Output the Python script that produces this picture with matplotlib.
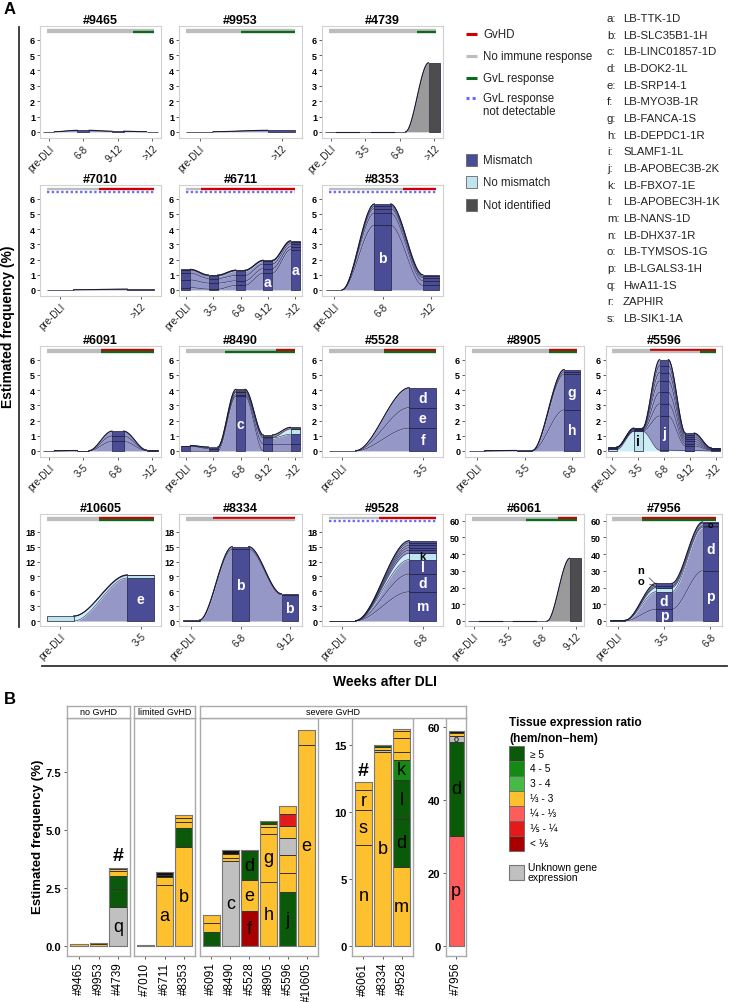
import numpy as np
import matplotlib
matplotlib.use('Agg')
import matplotlib.pyplot as plt
from matplotlib.patches import Rectangle

plt.rcParams['font.family'] = ['Liberation Sans', 'DejaVu Sans']

# ---- panel A data: time points, clones (category, values per time point, letter, label positions), status
# status = (start of GvHD, start of GvL response, GvL not detectable) as fraction of the follow-up line
P9465_t = ['pre-DLI', '6-8', '9-12', '>12']
P9465_c = [('mm', [0.01, 0.1, 0.04, 0.01], '', [])]
P9465_s = (None, 0.8, False)

P9953_t = ['pre-DLI', '>12']
P9953_c = [('mm', [0.01, 0.1], '', [])]
P9953_s = (None, 0.5, False)

P4739_t = ['pre_DLI', '3-5', '6-8', '>12']
P4739_c = [('ni', [0.01, 0.01, 0.01, 4.5], '', [])]
P4739_s = (None, 0.82, False)

P7010_t = ['pre-DLI', '>12']
P7010_c = [('ni', [0.01, 0.05], '', [])]
P7010_s = (0.49, None, True)

P6711_t = ['pre-DLI', '3-5', '6-8', '9-12', '>12']
P6711_c = [('mm', [0.15, 0.05, 0.3, 1.1, 2.65], 'a', [3, 4]),
           ('mm', [0.5, 0.4, 0.3, 0.3, 0.2], '', []),
           ('mm', [0.45, 0.3, 0.35, 0.3, 0.2], '', []),
           ('mm', [0.2, 0.15, 0.3, 0.2, 0.1], '', []),
           ('nm', [0.03, 0.05, 0.03, 0.03, 0.03], '', []),
           ('ni', [0.02, 0.03, 0.02, 0.02, 0.05], '', [])]
P6711_s = (0.14, None, True)

P8353_t = ['pre-DLI', '6-8', '>12']
P8353_c = [('mm', [0.01, 4.25, 0.3], 'b', [1]),
           ('mm', [0.0, 0.8, 0.3], '', []),
           ('mm', [0.0, 0.3, 0.2], '', []),
           ('mm', [0.0, 0.15, 0.1], '', []),
           ('mm', [0.0, 0.15, 0.1], '', [])]
P8353_s = (0.69, None, True)

P6091_t = ['pre-DLI', '3-5', '6-8', '>12']
P6091_c = [('mm', [0.0, 0.01, 0.62, 0.02], '', []),
           ('mm', [0.0, 0.01, 0.36, 0.02], '', []),
           ('mm', [0.01, 0.0, 0.32, 0.02], '', [])]
P6091_s = (0.5, 0.5, False)

P8490_t = ['pre-DLI', '3-5', '6-8', '9-12', '>12']
P8490_c = [('mm', [0.0, 0.0, 3.6, 0.0, 0.0], 'c', [2]),
           ('mm', [0.3, 0.15, 0.1, 0.45, 0.45], '', []),
           ('mm', [0.03, 0.03, 0.15, 0.4, 0.65], '', []),
           ('nm', [0.02, 0.07, 0.05, 0.05, 0.35], '', []),
           ('ni', [0.0, 0.0, 0.15, 0.15, 0.1], '', [])]
P8490_s = (0.82, 0.36, False)

P5528_t = ['pre-DLI', '3-5']
P5528_c = [('mm', [0.0, 1.5], 'f', [1]),
           ('mm', [0.0, 1.35], 'e', [1]),
           ('mm', [0.02, 1.3], 'd', [1])]
P5528_s = (0.51, 0.51, False)

P8905_t = ['pre-DLI', '3-5', '6-8']
P8905_c = [('mm', [0.0, 0.01, 2.7], 'h', [2]),
           ('mm', [0.01, 0.02, 2.35], 'g', [2]),
           ('mm', [0.0, 0.0, 0.15], '', []),
           ('mm', [0.0, 0.0, 0.15], '', [])]
P8905_s = (0.73, 0.73, False)

P5596_t = ['pre-DLI', '3-5', '6-8', '9-12', '>12']
P5596_c = [('nm', [0.1, 1.3, 0.05, 0.02, 0.0], 'i', [1]),
           ('mm', [0.1, 0.0, 2.25, 0.3, 0.05], 'j', [2]),
           ('mm', [0.02, 0.05, 0.8, 0.15, 0.03], '', []),
           ('mm', [0.02, 0.05, 0.75, 0.15, 0.03], '', []),
           ('mm', [0.01, 0.05, 0.75, 0.15, 0.03], '', []),
           ('mm', [0.0, 0.02, 0.55, 0.15, 0.03], '', []),
           ('mm', [0.0, 0.02, 0.45, 0.15, 0.02], '', []),
           ('mm', [0.0, 0.01, 0.4, 0.1, 0.01], '', [])]
P5596_s = (0.36, 0.85, False)

P10605_t = ['pre-DLI', '3-5']
P10605_c = [('mm', [0.0, 8.7], 'e', [1]),
            ('nm', [1.0, 0.5], '', []),
            ('mm', [0.0, 0.1], '', [])]
P10605_s = (0.49, 0.49, False)

P8334_t = ['pre-DLI', '6-8', '9-12']
P8334_c = [('mm', [0.1, 14.5, 5.3], 'b', [1, 2]),
           ('mm', [0.1, 0.5, 0.2], '', [])]
P8334_s = (0.25, None, False)

P9528_t = ['pre-DLI', '6-8']
P9528_c = [('mm', [0.05, 5.9], 'm', [1]),
           ('mm', [0.0, 3.6], 'd', [1]),
           ('mm', [0.0, 2.9], 'l', [1]),
           ('nm', [0.0, 1.3], 'k', [1]),
           ('mm', [0.0, 0.6], '', []),
           ('mm', [0.0, 0.5], '', []),
           ('mm', [0.05, 0.5], '', []),
           ('mm', [0.0, 0.5], '', []),
           ('mm', [0.0, 0.4], '', [])]
P9528_s = (0.47, None, True)

P6061_t = ['pre-DLI', '3-5', '6-8', '9-12']
P6061_c = [('ni', [0.01, 0.01, 0.01, 37.5], '', [])]
P6061_s = (0.82, 0.51, False)

P7956_t = ['pre-DLI', '3-5', '6-8']
P7956_c = [('mm', [0.1, 7.0, 30.0], 'p', [1, 2]),
           ('mm', [0.1, 10.5, 26.0], 'd', [1, 2]),
           ('nm', [0.2, 2.5, 0.8], '', []),
           ('mm', [0.05, 1.0, 1.7], 'o', [2]),
           ('mm', [0.05, 1.5, 0.7], 'n', [])]
P7956_s = (0.29, 0.29, False)
# letter, clone index, time index, text position
P7956_callouts = [('n', 4, 1, 0.5, 30.5), ('o', 3, 1, 0.5, 24.0)]

genes = ['LB-TTK-1D', 'LB-SLC35B1-1H', 'LB-LINC01857-1D', 'LB-DOK2-1L', 'LB-SRP14-1',
         'LB-MYO3B-1R', 'LB-FANCA-1S', 'LB-DEPDC1-1R', 'SLAMF1-1L', 'LB-APOBEC3B-2K',
         'LB-FBXO7-1E', 'LB-APOBEC3H-1K', 'LB-NANS-1D', 'LB-DHX37-1R', 'LB-TYMSOS-1G',
         'LB-LGALS3-1H', 'HwA11-1S', 'ZAPHIR', 'LB-SIK1-1A']

# ---- panel B data: per bar, segments bottom->top (expression class, height, letter)
B_noG_ids = ['#9465', '#9953', '#4739']
B_noG = [[('y', 0.1)],
         [('y', 0.09), ('g5', 0.02)],
         [('u', 1.7, 'q'), ('g5', 0.75), ('g5', 0.55), ('y', 0.25), ('y', 0.07), ('y', 0.06)]]
B_lim_ids = ['#7010', '#6711', '#8353']
B_lim = [[('y', 0.03)],
         [('y', 2.65, 'a'), ('y', 0.32), ('k', 0.1), ('k', 0.13)],
         [('y', 4.25, 'b'), ('g5', 0.85), ('y', 0.25), ('y', 0.15), ('y', 0.15)]]
B_sev_ids = ['#6091', '#8490', '#5528', '#8905', '#5596', '#10605']
B_sev = [[('g5', 0.62), ('y', 0.36), ('y', 0.34)],
         [('u', 3.65, 'c'), ('y', 0.15), ('y', 0.15), ('k', 0.17)],
         [('r5', 1.5, 'f'), ('y', 1.35, 'e'), ('g5', 1.25, 'd'), ('k', 0.04)],
         [('y', 2.75, 'h'), ('y', 2.1, 'g'), ('y', 0.3), ('y', 0.1), ('g5', 0.13)],
         [('g5', 2.32, 'j'), ('y', 0.83), ('y', 0.78), ('u', 0.72), ('y', 0.53), ('r4', 0.52), ('y', 0.32)],
         [('y', 8.65, 'e'), ('y', 0.65)]]
B_sev2_ids = ['#6061', '#8334', '#9528']
B_sev2 = [[('y', 7.5, 'n'), ('y', 2.65, 's'), ('y', 1.45, 'r'), ('y', 0.6)],
          [('y', 14.5, 'b'), ('u', 0.15), ('y', 0.15), ('g5', 0.2)],
          [('y', 5.9, 'm'), ('g5', 3.6, 'd'), ('g5', 2.9, 'l'), ('g4', 1.45, 'k'),
           ('y', 0.65), ('y', 1.0), ('y', 0.5), ('y', 0.2)]]
B_p60_ids = ['#7956']
B_p60 = [[('r3', 30.3, 'p'), ('g5', 25.7, 'd'), ('u', 1.7, 'o'), ('y', 0.8), ('k', 0.5)]]
B_hash = ['#4739', '#6061']

B_keys = ['g5', 'g4', 'g3', 'y', 'r3', 'r4', 'r5']
B_labels = ['≥ 5', '4 - 5', '3 - 4', '⅓ - 3', '¼ - ⅓', '⅕ - ¼', '< ⅕']

# ---- colours
BAR = {'mm': '#4a4d96', 'nm': '#bfe5ee', 'ni': '#4d4d4d'}
FLOW = {'mm': '#9597c6', 'nm': '#cdeef4', 'ni': '#9a9a9a'}
EDGE = '#2b2b55'
RED, GRAY, GREEN, BLUE = '#cc0000', '#bdbdbd', '#0a6b1e', '#6b6bff'
EXPR = {'g5': '#0a5a0a', 'g4': '#148a14', 'g3': '#46b946', 'y': '#fdc02e',
        'r3': '#ff5c5c', 'r4': '#e31a1c', 'r5': '#a80000', 'u': '#c0c0c0', 'k': '#111111'}

W, H = 729, 1003
fig = plt.figure(figsize=(W / 100, H / 100), dpi=100)


def add_ax(x0, x1, y0, y1):
    return fig.add_axes([x0 / W, 1 - y1 / H, (x1 - x0) / W, (y1 - y0) / H])


def status_lines(ax, st):
    gvhd, gvl, nd = st
    a0, a1 = 0.055, 0.945

    def seg(a, b, y, col, ls='-'):
        ax.plot([a0 + (a1 - a0) * a, a0 + (a1 - a0) * b], [y, y], transform=ax.transAxes,
                color=col, lw=1.7, ls=ls, solid_capstyle='butt', clip_on=False, zorder=5)
    if gvhd is None:
        seg(0, 1, 0.968, GRAY)
    else:
        seg(0, gvhd, 0.968, GRAY)
        seg(gvhd, 1, 0.968, RED)
    if nd:
        seg(0, 1, 0.94, BLUE, ls=(0, (1, 1)))
    elif gvl is None:
        seg(0, 1, 0.948, GRAY)
    else:
        seg(0, gvl, 0.948, GRAY)
        seg(gvl, 1, 0.948, GREEN)


def alluvial(ax, name, times, clones, st, ylim, yticks, callouts=()):
    n = len(times)
    w = 1 / 3
    vals = np.array([c[1] for c in clones], dtype=float)
    tops = np.cumsum(vals, axis=0)
    bots = tops - vals
    s = np.linspace(0, 1, 60)
    sm = s * s * (3 - 2 * s)
    for i in range(n - 1):
        xs = (i + w / 2) + (1 - w) * s
        for k, c in enumerate(clones):
            lo = bots[k, i] + (bots[k, i + 1] - bots[k, i]) * sm
            hi = tops[k, i] + (tops[k, i + 1] - tops[k, i]) * sm
            ax.fill_between(xs, lo, hi, color=FLOW[c[0]], lw=0, zorder=1)
            ax.plot(xs, hi, color=EDGE, lw=0.4, zorder=2)
        ax.plot(xs, tops[-1, i] + (tops[-1, i + 1] - tops[-1, i]) * sm, color='#1a1a33', lw=0.8, zorder=2)
    rng = ylim[1] - ylim[0]
    for i in range(n):
        for k, c in enumerate(clones):
            if vals[k, i] > 0:
                ax.bar(i, vals[k, i], bottom=bots[k, i], width=w, color=BAR[c[0]],
                       edgecolor='#1c1c3c', lw=0.5, zorder=3)
    for k, c in enumerate(clones):
        for i in c[3]:
            y = bots[k, i] + vals[k, i] / 2
            frac = vals[k, i] / rng
            if frac < 0.04:
                fs, col = 6.5, 'black'
            elif frac < 0.08:
                fs, col = 8, 'black' if c[0] == 'nm' else 'white'
            else:
                fs, col = 10, 'black' if c[0] == 'nm' else 'white'
            ax.text(i, y, c[2], ha='center', va='center', fontsize=fs, fontweight='bold',
                    color=col, zorder=6)
    for letter, k, i, tx, ty in callouts:
        y = bots[k, i] + vals[k, i] / 2
        ax.annotate(letter, xy=(i - w / 2, y), xytext=(tx, ty), fontsize=8, fontweight='bold',
                    ha='center', va='center', zorder=6,
                    arrowprops=dict(arrowstyle='-', color='#333333', lw=0.5, shrinkA=2, shrinkB=0))
    status_lines(ax, st)
    ax.set_xlim(-0.25, n - 0.75)
    ax.set_ylim(*ylim)
    ax.set_yticks(yticks)
    ax.set_yticklabels([str(v) for v in yticks], fontsize=6.5, fontweight='bold')
    ax.set_xticks(range(n))
    ax.set_xticklabels(times, rotation=45, ha='right', rotation_mode='anchor', fontsize=7, color='#222222')
    ax.tick_params(length=2, width=0.6, color='#444444', pad=1.5)
    for sp in ax.spines.values():
        sp.set_color('#d0d0d0')
        sp.set_linewidth(0.8)
    ax.set_title(name, fontsize=9, fontweight='bold', pad=1.5)


# ---- panel A layout
cols = [(40, 161), (179, 302), (322, 443), (465, 584), (606, 722)]
rows = [(27, 139), (186, 297), (347, 458), (515, 627)]
A_layout = [[('#9465', P9465_t, P9465_c, P9465_s), ('#9953', P9953_t, P9953_c, P9953_s),
             ('#4739', P4739_t, P4739_c, P4739_s)],
            [('#7010', P7010_t, P7010_c, P7010_s), ('#6711', P6711_t, P6711_c, P6711_s),
             ('#8353', P8353_t, P8353_c, P8353_s)],
            [('#6091', P6091_t, P6091_c, P6091_s), ('#8490', P8490_t, P8490_c, P8490_s),
             ('#5528', P5528_t, P5528_c, P5528_s), ('#8905', P8905_t, P8905_c, P8905_s),
             ('#5596', P5596_t, P5596_c, P5596_s)],
            [('#10605', P10605_t, P10605_c, P10605_s), ('#8334', P8334_t, P8334_c, P8334_s),
             ('#9528', P9528_t, P9528_c, P9528_s), ('#6061', P6061_t, P6061_c, P6061_s),
             ('#7956', P7956_t, P7956_c, P7956_s)]]

for r, row in enumerate(A_layout):
    for j, (name, t, c, st) in enumerate(row):
        ax = add_ax(cols[j][0], cols[j][1], rows[r][0], rows[r][1])
        if r < 3:
            ylim, yt = (-0.4, 6.9), list(range(7))
        elif name in ('#6061', '#7956'):
            ylim, yt = (-3.0, 64.0), list(range(0, 61, 10))
        else:
            ylim, yt = (-1.0, 21.6), list(range(0, 19, 3))
        alluvial(ax, name, t, c, st, ylim, yt, P7956_callouts if name == '#7956' else ())

# ---- panel B
B_top, B_bot = 719, 957


def stack_panel(x0, x1, ids, bars, ylim, yticks, ytl):
    ax = add_ax(x0, x1, B_top, B_bot)
    rng = ylim[1] - ylim[0]
    for i, segs in enumerate(bars):
        b = 0.0
        for seg in segs:
            key, h = seg[0], seg[1]
            ax.bar(i, h, bottom=b, width=0.9, color=EXPR[key], edgecolor='#333333', lw=0.7, zorder=2)
            if len(seg) > 2:
                small = h < 0.06 * rng
                ax.text(i, b + h / 2, seg[2], ha='center', va='center',
                        fontsize=6.5 if small else 13, zorder=4)
            b += h
        ax.bar(i, b, width=0.9, fill=False, edgecolor='#777777', lw=0.8, zorder=3)
        if ids[i] in B_hash:
            ax.text(i, b + 0.015 * rng, '#', ha='center', va='bottom', fontsize=14, fontweight='bold')
    ax.set_xlim(-0.6, len(bars) - 0.4)
    ax.set_ylim(*ylim)
    ax.set_xticks(range(len(bars)))
    ax.set_xticklabels(ids, rotation=90, fontsize=8.5)
    ax.set_yticks(yticks)
    if ytl:
        ax.set_yticklabels(ytl, fontsize=8, fontweight='bold')
    else:
        ax.tick_params(axis='y', left=False, labelleft=False)
    ax.tick_params(length=2.5, width=0.6, color='#444444', pad=1.5)
    for sp in ax.spines.values():
        sp.set_color('#aaaaaa')
        sp.set_linewidth(1.0)
    return ax


small_t = [0, 2.5, 5.0, 7.5]
stack_panel(67, 130, B_noG_ids, B_noG, (-0.43, 9.83), small_t, ['0.0', '2.5', '5.0', '7.5'])
stack_panel(134, 195, B_lim_ids, B_lim, (-0.43, 9.83), small_t, None)
stack_panel(200, 318, B_sev_ids, B_sev, (-0.43, 9.83), small_t, None)
stack_panel(352, 413, B_sev2_ids, B_sev2, (-0.75, 17.0), [0, 5, 10, 15], ['0', '5', '10', '15'])
stack_panel(446, 466, B_p60_ids, B_p60, (-2.7, 62.5), [0, 20, 40, 60], ['0', '20', '40', '60'])

for (x0, x1, lab) in [(67, 130, 'no GvHD'), (134, 195, 'limited GvHD'), (200, 466, 'severe GvHD')]:
    sax = add_ax(x0, x1, 707, 719)
    sax.set_xticks([])
    sax.set_yticks([])
    for sp in sax.spines.values():
        sp.set_color('#aaaaaa')
        sp.set_linewidth(1.0)
    sax.text(0.5, 0.5, lab, ha='center', va='center', fontsize=6.5, transform=sax.transAxes)

# ---- overlay for labels, legends and frame lines (pixel coordinates)
ov = fig.add_axes([0, 0, 1, 1])
ov.set_xlim(0, W)
ov.set_ylim(H, 0)
ov.axis('off')

ov.text(4, 2, 'A', fontsize=12, fontweight='bold', va='top')
ov.text(4, 692, 'B', fontsize=12, fontweight='bold', va='top')
ov.plot([19, 19], [28, 628], color='#333333', lw=1.3)
ov.plot([42, 727], [667, 667], color='#333333', lw=1.3)
ov.text(8, 327, 'Estimated frequency (%)', rotation=90, ha='center', va='center',
        fontsize=10, fontweight='bold')
ov.text(385, 682, 'Weeks after DLI', ha='center', va='center', fontsize=10, fontweight='bold')
ov.text(38, 837, 'Estimated frequency (%)', rotation=90, ha='center', va='center',
        fontsize=9.5, fontweight='bold')

# status legend
A_leg_lines = [('GvHD', RED, '-', 35), ('No immune response', GRAY, '-', 57),
               ('GvL response', GREEN, '-', 79), ('GvL response\nnot detectable', BLUE, ':', 99)]
for lab, col, ls, y in A_leg_lines:
    ov.plot([466, 477], [y, y], color=col, lw=2.2, ls=(0, (1, 1)) if ls == ':' else '-',
            solid_capstyle='butt')
    ty = y + 6.5 if '\n' in lab else y
    ov.text(483, ty, lab, fontsize=8.3, va='center', ha='left', color='#222222')

A_leg_boxes = [('Mismatch', BAR['mm'], 161), ('No mismatch', BAR['nm'], 183),
               ('Not identified', BAR['ni'], 206)]
for lab, col, y in A_leg_boxes:
    ov.add_patch(Rectangle((466, y - 6), 11, 12, facecolor=col, edgecolor='#666666', lw=0.6))
    ov.text(483, y, lab, fontsize=8.3, va='center', ha='left', color='#222222')

for i, g in enumerate(genes):
    y = 19 + i * 16.67
    ov.text(607, y, chr(ord('a') + i) + ':', fontsize=8.2, va='center', ha='left', color='#222222')
    ov.text(623, y, g, fontsize=8.2, va='center', ha='left', color='#222222')

# expression legend
ov.text(509, 723, 'Tissue expression ratio', fontsize=8.6, fontweight='bold', va='center')
ov.text(509, 739, '(hem/non\u2212hem)', fontsize=8.6, fontweight='bold', va='center')
for i, (k, lab) in enumerate(zip(B_keys, B_labels)):
    y = 747 + 15 * i
    ov.add_patch(Rectangle((509, y), 15, 15, facecolor=EXPR[k], edgecolor='#666666', lw=0.6))
    ov.text(530, y + 7.5, lab, fontsize=7.3, va='center', ha='left')
ov.add_patch(Rectangle((509, 866), 15, 15, facecolor=EXPR['u'], edgecolor='#777777', lw=0.8))
ov.text(528, 873, 'Unknown gene\nexpression', fontsize=7.5, va='center', ha='left', linespacing=1.1)

fig.savefig('out.png', dpi=100)
